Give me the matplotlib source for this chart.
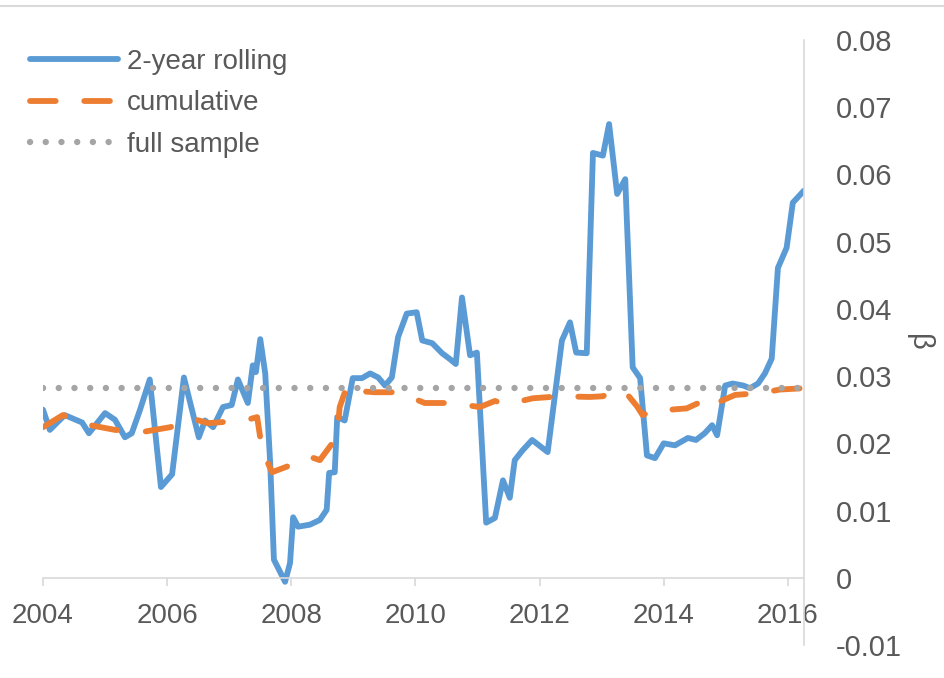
import matplotlib.pyplot as plt
from matplotlib.lines import Line2D

# ---------------------------------------------------------
# === Data ===
# ---------------------------------------------------------
rolling_x = [2004.00, 2004.11, 2004.35, 2004.63, 2004.74, 2005.00, 2005.16, 2005.32,
             2005.43, 2005.56, 2005.72, 2005.90, 2006.08, 2006.27, 2006.51, 2006.61,
             2006.74, 2006.90, 2007.04, 2007.14, 2007.30, 2007.38, 2007.43, 2007.50,
             2007.58, 2007.66, 2007.72, 2007.90, 2007.98, 2008.03, 2008.11, 2008.30,
             2008.46, 2008.57, 2008.61, 2008.70, 2008.74, 2008.86, 2008.99, 2009.14,
             2009.27, 2009.40, 2009.51, 2009.62, 2009.72, 2009.86, 2010.02, 2010.11,
             2010.27, 2010.43, 2010.56, 2010.65, 2010.75, 2010.88, 2010.99, 2011.14,
             2011.28, 2011.41, 2011.52, 2011.60, 2011.73, 2011.88, 2012.13, 2012.36,
             2012.49, 2012.59, 2012.76, 2012.86, 2013.02, 2013.12, 2013.25, 2013.38,
             2013.50, 2013.62, 2013.73, 2013.86, 2014.00, 2014.18, 2014.39, 2014.52,
             2014.66, 2014.78, 2014.86, 2014.99, 2015.11, 2015.28, 2015.39, 2015.52,
             2015.63, 2015.74, 2015.84, 2015.98, 2016.08, 2016.26]
rolling_beta = [0.0250, 0.0220, 0.0242, 0.0231, 0.0215, 0.0245, 0.0235, 0.0209,
                0.0215, 0.0249, 0.0295, 0.0135, 0.0154, 0.0298, 0.0209, 0.0234,
                0.0224, 0.0254, 0.0257, 0.0295, 0.0260, 0.0316, 0.0306, 0.0355,
                0.0304, 0.0171, 0.0027, -0.0006, 0.0022, 0.0090, 0.0076, 0.0079,
                0.0086, 0.0101, 0.0156, 0.0157, 0.0239, 0.0234, 0.0297, 0.0297,
                0.0304, 0.0298, 0.0286, 0.0298, 0.0358, 0.0393, 0.0395, 0.0353,
                0.0349, 0.0334, 0.0325, 0.0318, 0.0417, 0.0331, 0.0335, 0.0082,
                0.0089, 0.0145, 0.0119, 0.0175, 0.0190, 0.0205, 0.0187, 0.0353,
                0.0380, 0.0335, 0.0334, 0.0632, 0.0628, 0.0675, 0.0571, 0.0593,
                0.0313, 0.0297, 0.0182, 0.0178, 0.0200, 0.0197, 0.0208, 0.0205,
                0.0215, 0.0227, 0.0212, 0.0286, 0.0289, 0.0286, 0.0282, 0.0289,
                0.0304, 0.0326, 0.0461, 0.0491, 0.0558, 0.0576]

cum_x = [2004.00, 2004.32, 2004.76, 2005.16, 2005.61, 2006.05, 2006.40, 2006.66,
         2006.80, 2007.25, 2007.45, 2007.53, 2007.69, 2008.06, 2008.30, 2008.46,
         2008.66, 2008.74, 2008.78, 2008.90, 2009.03, 2009.35, 2009.72, 2010.15,
         2010.56, 2011.04, 2011.28, 2011.47, 2011.89, 2012.33, 2012.81, 2013.02,
         2013.21, 2013.42, 2013.57, 2013.66, 2013.89, 2014.10, 2014.37, 2014.63,
         2014.79, 2014.90, 2015.15, 2015.58, 2015.87, 2016.26]
cum_beta = [0.0224, 0.0242, 0.0227, 0.0220, 0.0217, 0.0224, 0.0237, 0.0230,
            0.0231, 0.0234, 0.0239, 0.0190, 0.0157, 0.0170, 0.0180, 0.0175,
            0.0200, 0.0215, 0.0254, 0.0286, 0.0278, 0.0276, 0.0276, 0.0260,
            0.0260, 0.0254, 0.0263, 0.0258, 0.0267, 0.0270, 0.0269, 0.0270,
            0.0280, 0.0272, 0.0255, 0.0242, 0.0251, 0.0250, 0.0252, 0.0263,
            0.0254, 0.0262, 0.0272, 0.0275, 0.0280, 0.0282]

full_x = [2004.0, 2016.2]
full_beta = [0.0282, 0.0282]

x_ticks = [2004, 2006, 2008, 2010, 2012, 2014, 2016]
y_ticks = [-0.01, 0, 0.01, 0.02, 0.03, 0.04, 0.05, 0.06, 0.07, 0.08]
y_ticklabels = ['-0.01', '0', '0.01', '0.02', '0.03', '0.04', '0.05', '0.06', '0.07', '0.08']

BLUE = '#5B9BD5'
ORANGE = '#ED7D31'
GREY = '#A5A5A5'
TEXT = '#595959'
AXIS = '#D9D9D9'

plt.rcParams['font.family'] = ['Liberation Sans', 'DejaVu Sans']

# ---------------------------------------------------------
# === Figure ===
# ---------------------------------------------------------
fig = plt.figure(figsize=(9.44, 6.78), dpi=100)
ax = fig.add_axes([43 / 944, 1 - 645 / 678, (804 - 43) / 944, (645 - 40) / 678])

ax.plot(rolling_x, rolling_beta, color=BLUE, lw=4.2, solid_joinstyle='round',
        solid_capstyle='round', label='2-year rolling')
ax.plot(cum_x, cum_beta, color=ORANGE, lw=4.2, linestyle=(0, (4.4, 4.9)),
        dash_capstyle='round', dash_joinstyle='round', label='cumulative')
ax.plot(full_x, full_beta, color=GREY, lw=4.6, linestyle=(0, (0.01, 2.45)),
        dash_capstyle='round', label='full sample')

ax.set_xlim(2004, 2016.26)
ax.set_ylim(-0.01, 0.08)

# spines: x axis sits on y=0, value axis on the right
for side in ['left', 'top']:
    ax.spines[side].set_visible(False)
ax.spines['bottom'].set_position(('data', 0))
ax.spines['bottom'].set_color(AXIS)
ax.spines['bottom'].set_linewidth(1.2)
ax.spines['right'].set_color(AXIS)
ax.spines['right'].set_linewidth(1.2)

ax.set_xticks(x_ticks)
ax.set_xticklabels([str(t) for t in x_ticks])
ax.tick_params(axis='x', direction='out', length=6, width=1.2, color=AXIS,
               labelsize=20, labelcolor=TEXT, pad=12)

ax.yaxis.tick_right()
ax.yaxis.set_label_position('right')
ax.set_yticks(y_ticks)
ax.set_yticklabels(y_ticklabels)
ax.tick_params(axis='y', length=0, labelsize=21, labelcolor=TEXT, pad=23)
ax.set_ylabel('β', fontsize=21, color=TEXT, rotation=-90, labelpad=12, va='center')

# legend, top left
fig.legend(loc='upper left', bbox_to_anchor=(30 / 944, 1 - 49 / 678),
           frameon=False, fontsize=20, labelcolor=TEXT, handlelength=3.15,
           handletextpad=0.35, labelspacing=0.55, borderpad=0, borderaxespad=0)

# thin frame line along the top edge
fig.add_artist(Line2D([0, 1], [1 - 6 / 678, 1 - 6 / 678], color=AXIS, lw=1.5))

fig.savefig('out.png', dpi=100)
